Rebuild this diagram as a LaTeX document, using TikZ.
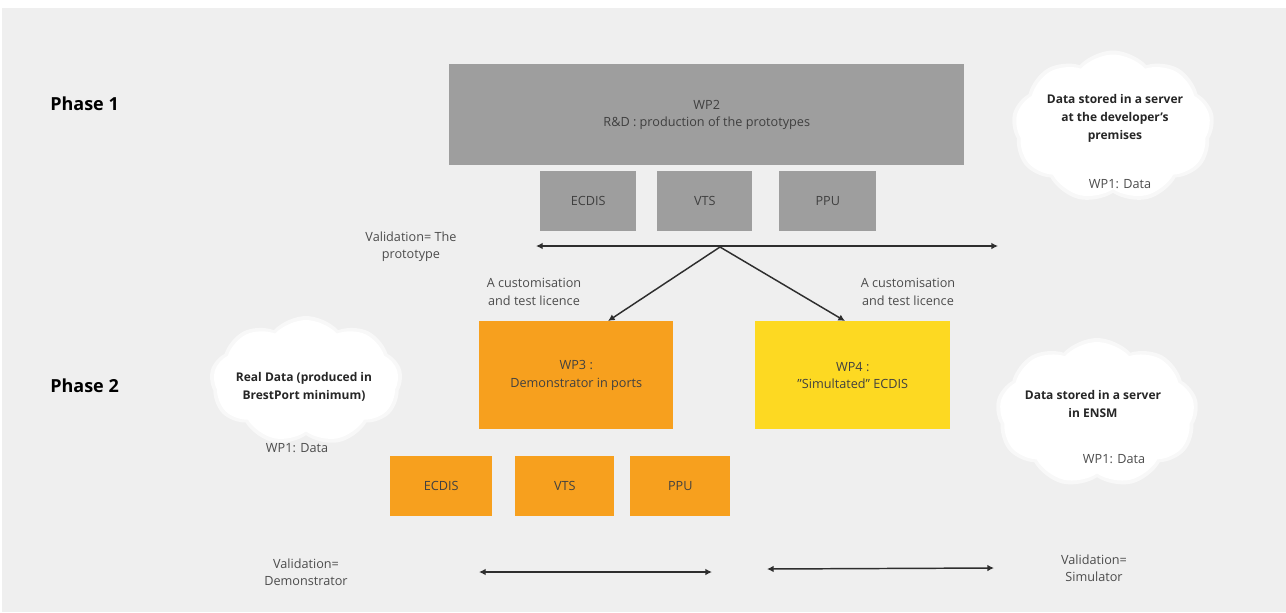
\documentclass[tikz,border=0pt]{standalone}
\usepackage{fontspec}
\setmainfont{Open Sans}
\usetikzlibrary{arrows.meta,shapes.symbols}
\definecolor{panel}{HTML}{EFEFEF}
\definecolor{greybox}{HTML}{9E9E9E}
\definecolor{orangebox}{HTML}{F7A01E}
\definecolor{yellowbox}{HTML}{FDD922}
\definecolor{inktext}{HTML}{3F3F3F}
\definecolor{linkline}{HTML}{2E2E2E}
\begin{document}
\begin{tikzpicture}[x=0.75pt,y=-0.75pt,
  every node/.style={font=\fontsize{9.5}{13}\selectfont, text=inktext, inner sep=0pt},
  block/.style={draw=none, align=center, anchor=north west},
  phase/.style={font=\bfseries\fontsize{13.5}{16}\selectfont, text=black, anchor=west},
  note/.style={align=center, text=black!70},
  cloudtxt/.style={align=center, font=\bfseries\fontsize{9}{13.5}\selectfont, text=black!85},
  puff/.style={cloud, cloud puffs=9, cloud puff arc=95, aspect=1.4, fill=white, draw=none},
  halo/.style={puff, fill=white!55!panel},
  twoway/.style={{Latex[length=5pt,width=5pt]}-{Latex[length=5pt,width=5pt]}, line width=1.1pt, draw=linkline},
  oneway/.style={-{Latex[length=5pt,width=5pt]}, line width=1.1pt, draw=linkline}]

% page and panel
\useasboundingbox (0,0) rectangle (1286,612);
\fill[white] (0,0) rectangle (1286,612);
\fill[panel] (2,8) rectangle (1286,612);

% phase labels
\node[phase] (p1) at (50,104) {Phase 1};
\node[phase] (p2) at (50,386) {Phase 2};

% clouds for the data sources, each with a soft rim
\node[halo, minimum width=203pt*0.75, minimum height=153pt*0.75] (c1h) at (1113,127) {};
\node[puff, minimum width=195pt*0.75, minimum height=145pt*0.75] (c1) at (1113,127) {};
\node[halo, minimum width=193pt*0.75, minimum height=130pt*0.75] (c2h) at (306,381) {};
\node[puff, minimum width=185pt*0.75, minimum height=122pt*0.75] (c2) at (306,381) {};
\node[halo, minimum width=203pt*0.75, minimum height=150pt*0.75] (c3h) at (1097,413) {};
\node[puff, minimum width=195pt*0.75, minimum height=142pt*0.75] (c3) at (1097,413) {};
\node[cloudtxt] (c1t) at (1115,118) {Data stored in a server\\at the developer's\\premises};
\node[note] (c1d) at (1120,184) {WP1: Data};
\node[cloudtxt] (c2t) at (304,387) {Real Data (produced in\\BrestPort minimum)};
\node[note] (c2d) at (297,448) {WP1: Data};
\node[cloudtxt] (c3t) at (1093,404) {Data stored in a server\\in ENSM};
\node[note] (c3d) at (1114,459) {WP1: Data};

% phase 1: R&D work package and its prototypes
\node[block, fill=greybox, minimum width=515pt*0.75, minimum height=101pt*0.75] (wp2) at (449,64) {};
\node[align=center] (wp2t) at (wp2.center) {WP2\\R\&D : production of the prototypes};
\node[block, fill=greybox, minimum width=96pt*0.75, minimum height=60pt*0.75] (e1) at (540,171) {};
\node (e1t) at (e1.center) {ECDIS};
\node[block, fill=greybox, minimum width=95pt*0.75, minimum height=60pt*0.75] (v1) at (657,171) {};
\node (v1t) at (v1.center) {VTS};
\node[block, fill=greybox, minimum width=97pt*0.75, minimum height=60pt*0.75] (u1) at (779,171) {};
\node (u1t) at (u1.center) {PPU};

% validation of the prototype
\node[note] (val1) at (411,247) {Validation= The\\prototype};
\coordinate (h1a) at (536,246);
\coordinate (h1b) at (998,246);
\coordinate (fork) at (720,247);
\draw[twoway] (h1a) -- (h1b);

% phase 2: work packages
\node[block, fill=orangebox, minimum width=194pt*0.75, minimum height=108pt*0.75] (wp3) at (479,321) {};
\node[align=center, text=black!75] (wp3t) at (wp3.center) {WP3 :\\Demonstrator in ports};
\node[block, fill=yellowbox, minimum width=195pt*0.75, minimum height=108pt*0.75] (wp4) at (755,321) {};
\node[align=center, text=black!75] (wp4t) at (wp4.center) {WP4 :\\\char"22Simultated\char"22{} ECDIS};
\coordinate (wp3in) at (608,321);
\coordinate (wp4in) at (845,321);
\draw[oneway] (fork) -- (wp3in);
\draw[oneway] (fork) -- (wp4in);
\node[note] (lic1) at (534,292) {A customisation\\and test licence};
\node[note] (lic2) at (908,292) {A customisation\\and test licence};

\node[block, fill=orangebox, minimum width=102pt*0.75, minimum height=60pt*0.75] (e2) at (390,456) {};
\node[text=black!75] (e2t) at (e2.center) {ECDIS};
\node[block, fill=orangebox, minimum width=99pt*0.75, minimum height=60pt*0.75] (v2) at (515,456) {};
\node[text=black!75] (v2t) at (v2.center) {VTS};
\node[block, fill=orangebox, minimum width=100pt*0.75, minimum height=60pt*0.75] (u2) at (630,456) {};
\node[text=black!75] (u2t) at (u2.center) {PPU};

% validation of demonstrator and simulator
\node[note] (val2) at (306,572) {Validation=\\Demonstrator};
\node[note] (val3) at (1094,568) {Validation=\\Simulator};
\coordinate (h2a) at (479,572);
\coordinate (h2b) at (712,572);
\coordinate (h3a) at (767,569);
\coordinate (h3b) at (994,568);
\draw[twoway] (h2a) -- (h2b);
\draw[twoway] (h3a) -- (h3b);
\end{tikzpicture}
\end{document}
